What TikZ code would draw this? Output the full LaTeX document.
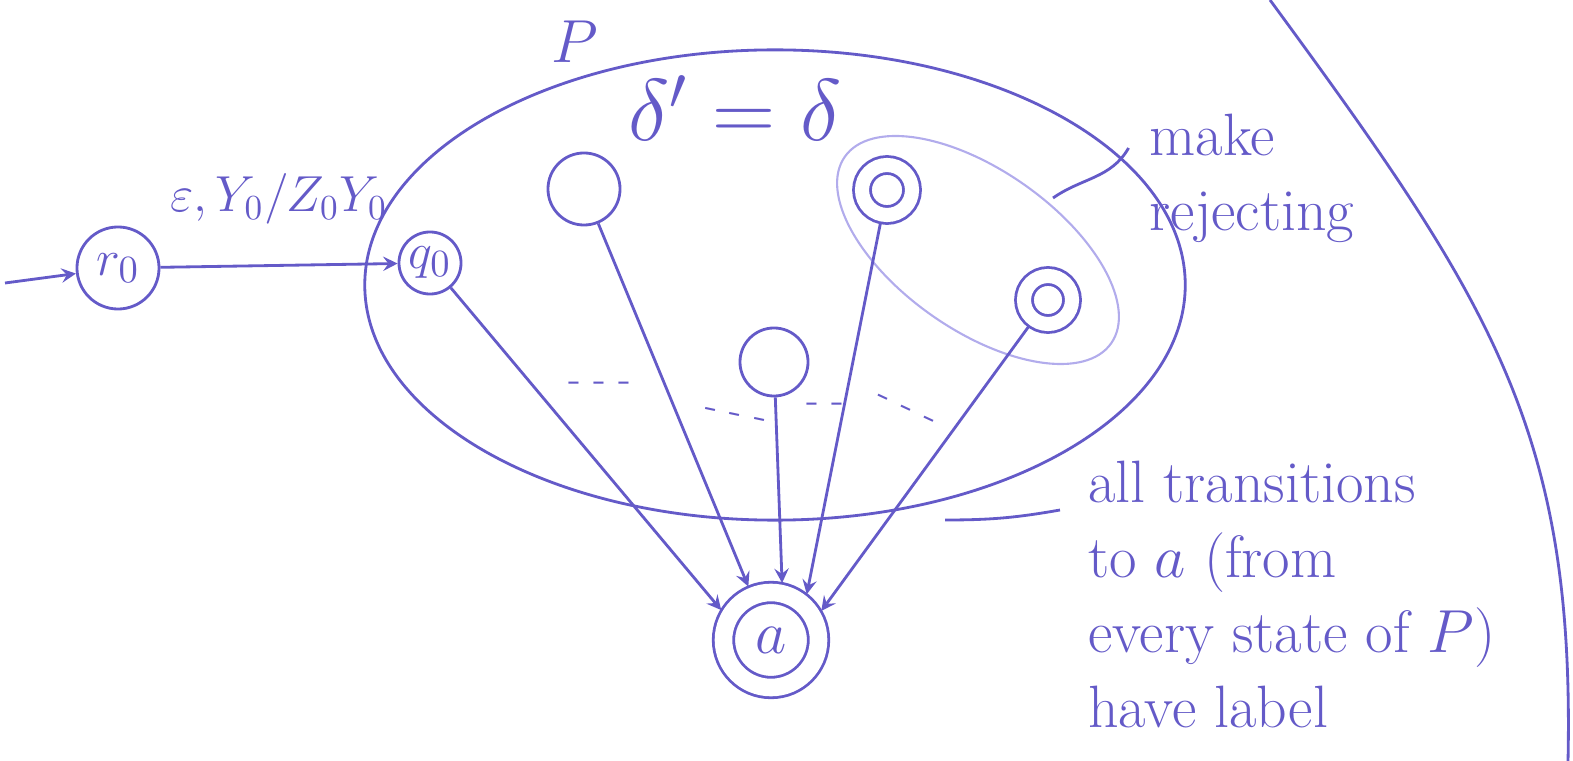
\documentclass[tikz,border=0pt]{standalone}
\usetikzlibrary{shapes.geometric}
\definecolor{ink}{RGB}{100,90,200}
\definecolor{inklight}{RGB}{178,172,236}
\tikzset{
  st/.style={circle, draw=ink, inner sep=0pt, font=\fontsize{15}{18}\selectfont},
  acc/.style={st, double, double distance=4pt, outer sep=2.4pt},
  hand/.style={font=\fontsize{17}{21.3}\selectfont},
}
\begin{document}
\begin{tikzpicture}[>=stealth, x=0.01cm, y=-0.01cm, line width=0.8pt, ink]
  \useasboundingbox (0,0) rectangle (1573,761);
  % the automaton P
  \node[draw, ellipse, minimum width=8.2cm, minimum height=4.7cm] (P) at (775,285) {};
  \node[font=\fontsize{18}{20}\selectfont] (Plab) at (575,42) {$P$};
  \node[font=\fontsize{26}{30}\selectfont] (delta) at (735,108) {$\delta' = \delta$};
  % accepting states of P
  \node[draw=inklight, ellipse, rotate=-35, line width=0.6pt,
        minimum width=3.25cm, minimum height=1.6cm] (rej) at (978,250) {};
  % states
  \node[st, minimum size=0.82cm] (r0) at (118,268) {$r_0$};
  \node[st, minimum size=0.62cm] (q0) at (430,263) {$q_0$};
  \node[st, minimum size=0.72cm] (s1) at (584,189) {};
  \node[acc, minimum size=0.5cm] (s2) at (887,190) {};
  \node[st, minimum size=0.68cm] (s3) at (774,362) {};
  \node[acc, minimum size=0.48cm] (s4) at (1048,300) {};
  \node[st, double, double distance=5pt, outer sep=3pt, minimum size=0.95cm,
        font=\fontsize{18}{20}\selectfont] (a) at (771,640) {$a$};
  % start and first move
  \coordinate (start) at (5,283);
  \draw[->] (start) -- (r0);
  \draw[->] (r0) -- node[above=8pt, font=\fontsize{14}{17}\selectfont] {$\varepsilon, Y_0/Z_0Y_0$} (q0);
  % everything goes to a
  \foreach \s/\ang in {q0/149, s1/113, s3/79, s2/52, s4/30} {
    \draw[->] (\s) -- (a.\ang);
  }
  % more states
  \foreach \p/\r/\t [count=\i] in {{(600,387)}/0/{- - -}, {(735,418)}/-12/{- - -},
                                    {(825,408)}/0/{- -}, {(905,412)}/-25/{- - -}} {
    \node[font=\fontsize{11}{13}\selectfont, inner sep=1pt, rotate=\r] (dots\i) at \p {\t};
  }
  % notes
  \node[hand, align=left] (mk) at (1252,178) {make\\rejecting};
  \coordinate (mktip) at (1053,198);
  \draw (mktip) to[out=35, in=-120] ([shift={(-8,-30)}]mk.west);
  \node[hand, align=left, anchor=north west] (all) at (1075,448)
    {all transitions\\to $a$ (from\\every state of $P$)\\have label};
  \coordinate (alltip) at (945,520);
  \draw (alltip) to[out=0, in=190] ([shift={(-15,62)}]all.north west);
  % edge of the page
  \draw (1270,0) .. controls (1490,300) and (1575,430) .. (1568,761);
\end{tikzpicture}
\end{document}
